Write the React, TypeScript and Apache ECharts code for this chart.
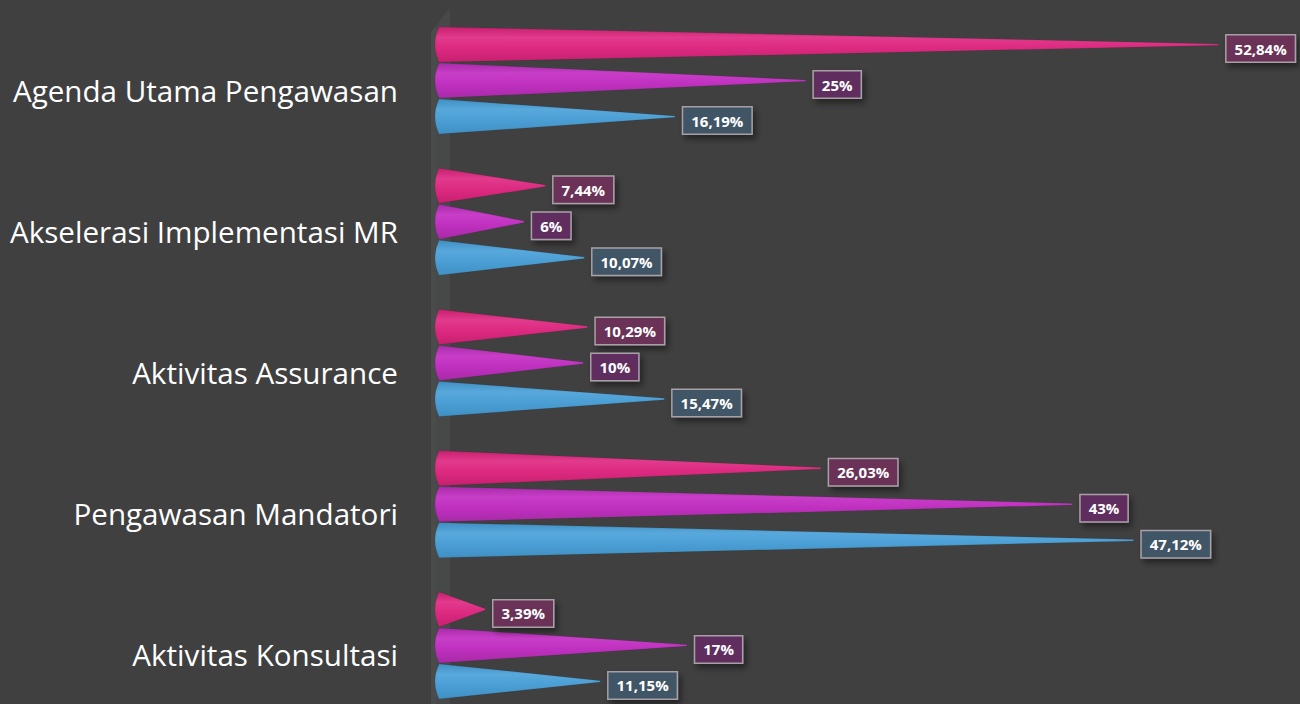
import React, { useEffect, useRef } from "react";
import * as echarts from "echarts";

const categories = [
  "Agenda Utama Pengawasan",
  "Akselerasi Implementasi MR",
  "Aktivitas Assurance",
  "Pengawasan Mandatori",
  "Aktivitas Konsultasi",
];
const pinkValues = [52.84, 7.44, 10.29, 26.03, 3.39];
const purpleValues = [25, 6, 10, 43, 17];
const blueValues = [16.19, 10.07, 15.47, 47.12, 11.15];

function fmt(v: number) {
  return String(v).replace(".", ",") + "%";
}

function grad(edge: string, mid: string, light: string) {
  return new echarts.graphic.LinearGradient(0, 0, 0, 1, [
    { offset: 0, color: edge },
    { offset: 0.3, color: light },
    { offset: 0.6, color: mid },
    { offset: 1, color: edge },
  ]);
}

function makeSeries(idx: number, data: number[], fill: any, labelBg: string) {
  return {
    name: "s" + idx,
    type: "custom",
    data: data.map((v, i) => [v, i]),
    encode: { x: 0, y: 1 },
    renderItem: (params: any, api: any) => {
      const val = api.value(0);
      const cat = api.value(1);
      const start = api.coord([0, cat]);
      const end = api.coord([val, cat]);
      const band = api.size([0, 1])[1];
      const step = band * 0.255;
      const h = step - 1;
      const yc = start[1] + (idx - 1) * step;
      const x0 = start[0];
      const x1 = end[0];
      const r = 4;
      const t = 0.7;
      const d =
        `M${x0 + r},${yc - h / 2} L${x1},${yc - t} L${x1},${yc + t} L${x0 + r},${yc + h / 2} ` +
        `Q${x0 - r},${yc} ${x0 + r},${yc - h / 2} Z`;
      return {
        type: "path",
        shape: { pathData: d },
        style: { fill, stroke: "rgba(0,0,0,0.15)", lineWidth: 0.5 },
        textContent: {
          style: {
            text: fmt(val),
            fill: "#ffffff",
            fontFamily: "Open Sans",
            fontWeight: "bold",
            fontSize: 15,
            backgroundColor: labelBg,
            borderColor: "#a8a0a6",
            borderWidth: 1.5,
            padding: [6, 8, 5, 8],
            shadowColor: "rgba(0,0,0,0.45)",
            shadowBlur: 6,
            shadowOffsetX: 3,
            shadowOffsetY: 4,
          },
        },
        textConfig: { position: "right", distance: 8, offset: [0, 4] },
      };
    },
  };
}

export default function App() {
  const ref = useRef<HTMLDivElement>(null);
  useEffect(() => {
    if (!ref.current) return;
    const chart = echarts.init(ref.current, undefined, { renderer: "svg" });
    chart.setOption({
      animation: false,
      backgroundColor: "#404040",
      graphic: [
        {
          type: "polygon",
          z: -1,
          shape: { points: [[431, 32], [450, 8], [450, 720], [431, 720]] },
          style: { fill: "#474949" },
        },
        {
          type: "polygon",
          z: -1,
          shape: { points: [[431, 32], [436, 26], [436, 720], [431, 720]] },
          style: { fill: "#4a4c4c" },
        },
      ],
      grid: { left: 435, top: 10, height: 706, width: 845 },
      xAxis: {
        type: "value",
        min: 0,
        max: 57,
        show: false,
      },
      yAxis: {
        type: "category",
        data: categories,
        inverse: true,
        axisLine: { show: false },
        axisTick: { show: false },
        splitLine: { show: false },
        axisLabel: {
          color: "#ffffff",
          fontFamily: "Open Sans",
          fontSize: 29.6,
          margin: 37,
          verticalAlign: "top",
          lineHeight: 19,
        },
      },
      series: [
        makeSeries(0, pinkValues, grad("#c81f70", "#dc2a80", "#e23a8c"), "#6a3157"),
        makeSeries(1, purpleValues, grad("#a82aa8", "#c030c0", "#c83ec8"), "#5f2d5f"),
        makeSeries(2, blueValues, grad("#3f8fc4", "#4b9fd4", "#58a8dc"), "#3f5566"),
      ],
    });
    return () => chart.dispose();
  }, []);
  return (
    <div style={{ position: "fixed", left: 0, top: 0, width: 1300, height: 704, overflow: "hidden" }}>
      <div ref={ref} style={{ width: 1300, height: 720 }} />
    </div>
  );
}
